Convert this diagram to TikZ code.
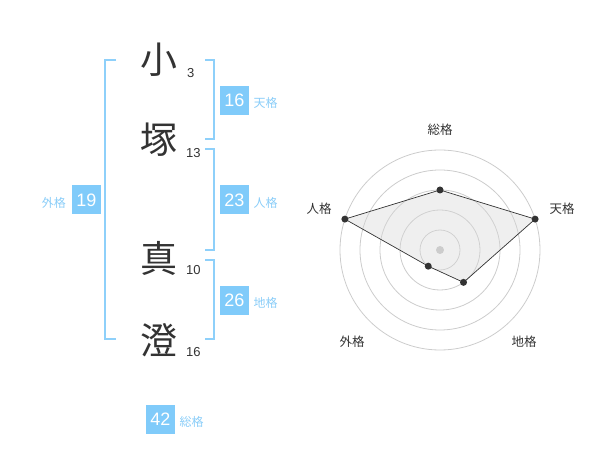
\documentclass[tikz,border=0pt]{standalone}
\usepackage{fontspec}
\setmainfont{Liberation Sans}
\newfontfamily\cjk{Noto Sans CJK JP}
\definecolor{boxblue}{HTML}{80CBFA}
\definecolor{brblue}{HTML}{8ED0FA}
\definecolor{lblblue}{HTML}{8ACDF8}
\definecolor{ink}{HTML}{333333}
\definecolor{ring}{HTML}{CCCCCC}
\definecolor{polyfill}{HTML}{D8D8D8}
\begin{document}
\begin{tikzpicture}[x=1pt,y=-1pt,
  kanji/.style={font=\cjk\fontsize{37}{37}\selectfont, text=ink, inner sep=0pt},
  strokes/.style={font=\fontsize{13}{13}\selectfont, text=ink, inner sep=0pt, anchor=west},
  numbox/.style={fill=boxblue, text=white, minimum width=29, minimum height=29, inner sep=0pt, font=\fontsize{18}{18}\selectfont},
  gaklbl/.style={font=\cjk\fontsize{12}{12}\selectfont, text=lblblue, inner sep=0pt},
  bracket/.style={draw=brblue, line width=2},
  radlbl/.style={font=\cjk\fontsize{12.5}{12.5}\selectfont, text=ink, inner sep=0pt},
  ringline/.style={draw=ring, line width=0.8},
  dot/.style={circle, fill=ink, inner sep=0pt, minimum size=7}
]
\useasboundingbox (0,0) rectangle (600,470);
% kanji
\node[kanji] (k1) at (159,60) {小};
\node[kanji] (k2) at (159,140) {塚};
\node[kanji] (k3) at (159,258) {真};
\node[kanji] (k4) at (159,340) {澄};
\node[strokes] (s1) at (187,73) {3};
\node[strokes] (s2) at (186,153) {13};
\node[strokes] (s3) at (186,270) {10};
\node[strokes] (s4) at (186,352) {16};
% brackets
\draw[bracket] (116,60) -- (105,60) -- (105,339) -- (116,339);
\draw[bracket] (205,60) -- (214,60) -- (214,139.5) -- (205,139.5);
\draw[bracket] (205,149.5) -- (214,149.5) -- (214,250) -- (205,250);
\draw[bracket] (205,260) -- (214,260) -- (214,339) -- (205,339);
% boxes
\node[numbox] (b16) at (234.5,100.5) {16};
\node[gaklbl, anchor=west] (l16) at (253.5,103) {天格};
\node[numbox] (b23) at (234.5,200) {23};
\node[gaklbl, anchor=west] (l23) at (253.5,203) {人格};
\node[numbox] (b26) at (234.5,300.5) {26};
\node[gaklbl, anchor=west] (l26) at (253.5,303) {地格};
\node[numbox] (b19) at (86.5,200) {19};
\node[gaklbl, anchor=east] (l19) at (66,203) {外格};
\node[numbox] (b42) at (160.5,419) {42};
\node[gaklbl, anchor=west] (l42) at (179.5,422) {総格};
% radar
\coordinate (c) at (440,250);
\foreach \r in {20,40,60,80,100} \draw[ringline] (c) circle (\r);
\path (c) ++(0,-60) coordinate (pS);
\path (c) ++({100*cos(18)},{-100*sin(18)}) coordinate (pT);
\path (c) ++({40*cos(54)},{40*sin(54)}) coordinate (pC);
\path (c) ++({-20*cos(54)},{20*sin(54)}) coordinate (pG);
\path (c) ++({-100*cos(18)},{-100*sin(18)}) coordinate (pJ);
\fill[polyfill, fill opacity=0.4] (pS) -- (pT) -- (pC) -- (pG) -- (pJ) -- cycle;
\draw[draw=ink, line width=0.7] (pS) -- (pT) -- (pC) -- (pG) -- (pJ) -- cycle;
\fill[ring] (c) circle (4);
\foreach \p in {pS,pT,pC,pG,pJ} \node[dot] at (\p) {};
\node[radlbl] (rS) at (440,130) {総格};
\node[radlbl] (rT) at (562,209) {天格};
\node[radlbl] (rC) at (524,342) {地格};
\node[radlbl] (rG) at (352,342) {外格};
\node[radlbl] (rJ) at (319,209) {人格};
\end{tikzpicture}
\end{document}
